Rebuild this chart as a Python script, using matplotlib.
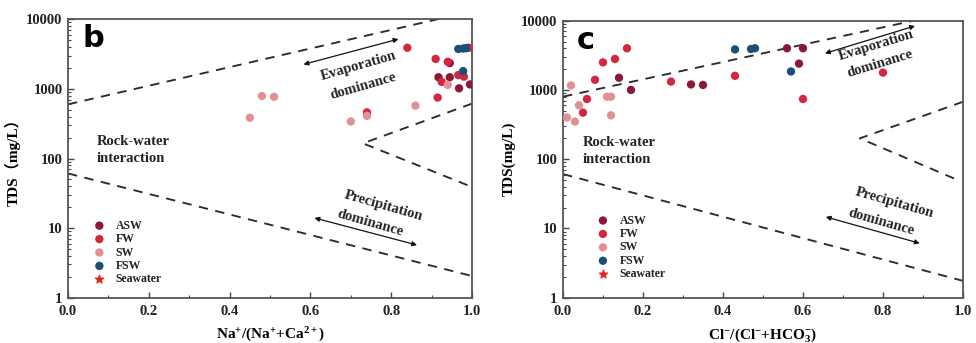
import matplotlib
matplotlib.use("Agg")
import matplotlib.pyplot as plt
import numpy as np
from matplotlib.ticker import MultipleLocator, LogLocator, NullFormatter

plt.rcParams["font.family"] = ["Liberation Serif", "Noto Sans CJK SC"]
plt.rcParams["font.weight"] = "bold"
plt.rcParams["mathtext.fontset"] = "custom"
plt.rcParams["mathtext.rm"] = "Liberation Serif:bold"
plt.rcParams["mathtext.bf"] = "Liberation Serif:bold"
plt.rcParams["mathtext.it"] = "Liberation Serif:bold"

# ---- Gibbs diagram data: Na+/(Na+ + Ca2+) ratio vs TDS (mg/L) ----
na_asw_x = [0.945, 0.917, 0.945, 0.968, 0.995, 0.99]
na_asw_tds = [2350, 1470, 1470, 1020, 1160, 3900]
na_fw_x = [0.84, 0.91, 0.94, 0.925, 0.966, 0.98, 0.915, 0.74, 1.00]
na_fw_tds = [3900, 2700, 2450, 1260, 1580, 1500, 750, 460, 3900]
na_sw_x = [0.45, 0.48, 0.51, 0.70, 0.74, 0.86, 0.94]
na_sw_tds = [385, 790, 770, 340, 410, 575, 1140]
na_fsw_x = [0.966, 0.978, 0.985, 0.978]
na_fsw_tds = [3750, 3800, 3850, 1800]

# ---- Gibbs diagram data: Cl-/(Cl- + HCO3-) ratio vs TDS (mg/L) ----
cl_asw_x = [0.14, 0.17, 0.32, 0.35, 0.56, 0.60, 0.59]
cl_asw_tds = [1500, 1000, 1200, 1180, 4000, 4000, 2400]
cl_fw_x = [0.05, 0.06, 0.08, 0.10, 0.13, 0.16, 0.27, 0.43, 0.60, 0.80]
cl_fw_tds = [470, 740, 1400, 2500, 2800, 4000, 1320, 1600, 740, 1780]
cl_sw_x = [0.01, 0.02, 0.04, 0.03, 0.11, 0.12, 0.12]
cl_sw_tds = [400, 1160, 600, 350, 800, 800, 430]
cl_fsw_x = [0.43, 0.47, 0.48, 0.57]
cl_fsw_tds = [3850, 3900, 4000, 1850]

# Seawater reference (falls outside the plotted range)
sea_x = []
sea_tds = []

# Gibbs boundary curves (x, TDS) for each panel
na_upper = ([0.0, 0.93], [600, 10500])
na_mid = ([1.0, 0.73, 1.0], [615, 165, 39])
na_lower = ([0.0, 1.0], [61, 2.05])
cl_upper = ([0.0, 0.89], [800, 10400])
cl_mid = ([1.0, 0.742, 0.98], [675, 200, 52])
cl_lower = ([0.0, 1.0], [61, 1.75])

# Double arrows (start, end) for each panel
na_evap_arrow = ((0.583, 2250), (0.818, 5200))
na_prec_arrow = ((0.61, 14), (0.864, 5.7))
cl_evap_arrow = ((0.655, 3380), (0.88, 8400))
cl_prec_arrow = ((0.657, 14.7), (0.892, 6.1))

groups = ["ASW", "FW", "SW", "FSW"]
colors = {"ASW": "#8C1736", "FW": "#D3263F", "SW": "#E39094", "FSW": "#1A4F78"}
sea_color = "#E8231D"

fig = plt.figure(figsize=(9.76, 3.43), dpi=100)
W, H = 976, 343


def add_axes_px(x0, x1, ytop, ybot):
    return fig.add_axes([x0 / W, 1 - ybot / H, (x1 - x0) / W, (ybot - ytop) / H])


axb = add_axes_px(68, 472, 19.3, 297.7)
axc = add_axes_px(563, 963, 20.7, 297.7)

dash = (0, (5, 4))
line_kw = dict(color="#2b2b2b", lw=1.35, linestyle=dash)


def style_axes(ax):
    ax.set_xlim(0, 1)
    ax.set_yscale("log")
    ax.set_ylim(1, 10000)
    ax.xaxis.set_minor_locator(MultipleLocator(0.1))
    ax.set_xticks([0, 0.2, 0.4, 0.6, 0.8, 1.0])
    ax.set_xticklabels(["0.0", "0.2", "0.4", "0.6", "0.8", "1.0"])
    ax.set_yticks([1, 10, 100, 1000, 10000])
    ax.set_yticklabels(["1", "10", "100", "1000", "10000"])
    ax.yaxis.set_minor_locator(LogLocator(base=10, subs=np.arange(2, 10)))
    ax.yaxis.set_minor_formatter(NullFormatter())
    ax.tick_params(which="both", direction="in", colors="#444444",
                   labelcolor="#222222", labelsize=10.5)
    ax.tick_params(which="major", length=4, width=1)
    ax.tick_params(which="minor", length=2.2, width=0.8)
    ax.tick_params(axis="x", pad=5)
    ax.tick_params(axis="y", pad=4)
    for sp in ax.spines.values():
        sp.set_color("#555555")
        sp.set_linewidth(1.3)


def draw_panel(ax, data, curves, arrows, texts, letter, legend_anchor):
    style_axes(ax)
    for xs, ys in curves:
        ax.plot(xs, ys, **line_kw, zorder=1)
    for (x0, y0), (x1, y1) in arrows:
        ax.annotate("", xy=(x1, y1), xytext=(x0, y0),
                    arrowprops=dict(arrowstyle="<|-|>", color="#111111", lw=0.9,
                                    mutation_scale=7, shrinkA=0, shrinkB=0))
    for g in groups:
        xs, ys = data[g]
        ax.scatter(xs, ys, s=36, color=colors[g], edgecolors="none", label=g, zorder=3)
    ax.scatter(sea_x, sea_tds, s=36, marker="*", color=sea_color, label="Seawater", zorder=4)
    for (x, y, s, rot) in texts:
        ax.text(x, y, s, rotation=rot, ha="center", va="center", fontsize=10.5,
                fontweight="bold", color="#222222", rotation_mode="anchor")
    ax.text(0.035, 0.93, letter, transform=ax.transAxes, fontsize=22,
            fontweight="bold", family="DejaVu Sans", va="center", ha="left", color="black")
    leg = ax.legend(loc="upper left", bbox_to_anchor=legend_anchor, frameon=False,
                    handlelength=1.0, handletextpad=0.9,
                    labelspacing=0.12, borderpad=0, borderaxespad=0,
                    prop={"family": "Liberation Serif", "weight": "bold", "size": 8.5})
    for t in leg.get_texts():
        t.set_color("#222222")


draw_panel(
    axb,
    {"ASW": (na_asw_x, na_asw_tds), "FW": (na_fw_x, na_fw_tds),
     "SW": (na_sw_x, na_sw_tds), "FSW": (na_fsw_x, na_fsw_tds)},
    [na_upper, na_mid, na_lower],
    [na_evap_arrow, na_prec_arrow],
    [(0.72, 2100, "Evaporation", 16), (0.73, 1100, "dominance", 16),
     (0.78, 21, "Precipitation", -16), (0.748, 11.7, "dominance", -16)],
    "b", (0.063, 0.28),
)
axb.text(0.07, 175, "Rock-water", fontsize=10.5, fontweight="bold", va="center", color="#222222")
axb.text(0.07, 100, "interaction", fontsize=10.5, fontweight="bold", va="center", color="#222222")
axb.set_xlabel(r"$\mathbf{Na^{+}/(Na^{+}{+}Ca^{2+})}$", fontsize=11, labelpad=6)
axb.set_ylabel("TDS（mg/L）", fontsize=11, fontweight="bold", labelpad=4)

draw_panel(
    axc,
    {"ASW": (cl_asw_x, cl_asw_tds), "FW": (cl_fw_x, cl_fw_tds),
     "SW": (cl_sw_x, cl_sw_tds), "FSW": (cl_fsw_x, cl_fsw_tds)},
    [cl_upper, cl_mid, cl_lower],
    [cl_evap_arrow, cl_prec_arrow],
    [(0.784, 4450, "Evaporation", 17), (0.792, 2420, "dominance", 17),
     (0.83, 23, "Precipitation", -16), (0.796, 12.3, "dominance", -16)],
    "c", (0.085, 0.3),
)
axc.text(0.05, 173, "Rock-water", fontsize=10.5, fontweight="bold", va="center", color="#222222")
axc.text(0.05, 100, "interaction", fontsize=10.5, fontweight="bold", va="center", color="#222222")
axc.set_xlabel(r"$\mathbf{Cl^{-}/(Cl^{-}{+}HCO_{3}^{-})}$", fontsize=11, labelpad=6)
axc.set_ylabel("TDS(mg/L)", fontsize=11, fontweight="bold", labelpad=4)

fig.savefig("out.png", dpi=100, facecolor="white")
